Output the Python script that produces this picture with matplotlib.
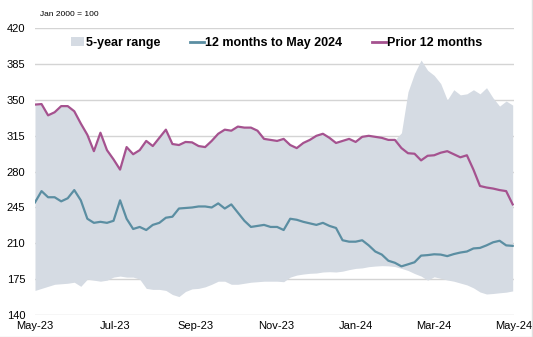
import matplotlib
matplotlib.use("Agg")
import matplotlib.pyplot as plt
import matplotlib.dates as mdates
from matplotlib.lines import Line2D
from matplotlib.patches import Patch
import pandas as pd

plt.rcParams['font.family'] = ['Liberation Sans', 'DejaVu Sans']

# index, Jan 2000 = 100, sampled every 5 days from 1 May 2023
start_date = '2023-05-01'
n_points = 74

prior_12m = [345.5, 346, 335, 338, 344, 344, 339, 327, 316, 300, 318, 301, 292, 282, 304, 297, 301, 310, 305,
             313, 321, 307, 306, 309, 308.6, 305, 304, 310, 317, 321, 320, 324, 323, 323, 320, 312, 311,
             310, 312, 306, 303, 308, 311, 315, 317, 313, 308, 310, 312, 309, 314, 315, 314, 313, 311, 311,
             303, 298, 297.5, 291, 295.5, 296, 298.5, 300, 297, 294, 296, 282, 266, 264.5, 263.5, 262, 261, 248]

last_12m = [250, 261, 255, 255, 251, 254, 262, 252, 234, 230, 231, 230, 232, 252, 234, 224, 226, 223, 228,
            230, 235, 236, 244, 244.5, 245, 246, 246, 245, 249, 244, 248, 240, 232, 226, 227, 228, 226,
            226, 223, 234, 233, 231, 229.5, 228, 230, 227, 225, 213, 211.6, 211.6, 213, 208, 202, 199, 193, 191,
            187.5, 189.5, 191.5, 198, 198.5, 199.3, 199, 197.5, 199.5, 201, 202, 205, 205.5, 208, 211, 212.5, 208, 207.5]

range_low = [164, 166, 168, 170, 170.5, 171, 172, 168, 175, 174, 173, 174, 177, 178, 177, 177, 175, 166, 165,
             165, 164, 160, 158, 163, 165.5, 166, 167.5, 170, 173, 173, 170, 170, 171, 172, 172.5, 173, 173,
             173, 172.5, 177, 179, 180, 180.7, 181, 182, 182.3, 182, 182.8, 184.3, 185.5, 186, 187.2, 187.8, 188.2, 188, 187.3,
             185.5, 183.5, 180.5, 178, 174, 177.3, 175.8, 174.2, 173, 171.2, 169.4, 166.5, 162.5, 160.5, 161, 161.7, 162.3, 163.5]

# top of range follows the prior-12-months line until the March spike
range_high_spike = [318, 358, 376, 389, 379, 374, 366, 350, 360, 355, 356, 360, 356, 362, 352, 344, 349, 345]
range_high = prior_12m[:n_points - len(range_high_spike)] + range_high_spike

yticks = [140, 175, 210, 245, 280, 315, 350, 385, 420]

fill_col = '#d5dbe3'
teal = '#5b8ea2'
purple = '#a5528f'
grid_col = '#d4d4d4'

dates = pd.date_range(start_date, periods=n_points, freq='5D')

fig = plt.figure(figsize=(5.33, 3.37), dpi=100)
ax = fig.add_axes([35 / 533, 1 - 315 / 337, 479 / 533, 286.7 / 337])

ax.fill_between(dates, range_low, range_high, color=fill_col, lw=0, zorder=2)
ax.plot(dates, last_12m, color=teal, lw=1.6, zorder=3)
ax.plot(dates, prior_12m, color=purple, lw=1.6, zorder=3)

ax.set_ylim(140, 420)
ax.set_yticks(yticks)
ax.set_xlim(pd.Timestamp('2023-05-01'), pd.Timestamp('2024-05-01'))
ax.xaxis.set_major_locator(mdates.MonthLocator(bymonth=[1, 3, 5, 7, 9, 11]))
ax.xaxis.set_major_formatter(mdates.DateFormatter('%b-%y'))

ax.grid(axis='y', color=grid_col, lw=1)
ax.set_axisbelow(True)
for s in ax.spines.values():
    s.set_visible(False)
ax.tick_params(axis='y', length=0, pad=7, labelsize=8)
ax.tick_params(axis='x', length=0, pad=4, labelsize=8)

handles = [Patch(facecolor=fill_col, edgecolor='none'),
           Line2D([], [], color=teal, lw=2),
           Line2D([], [], color=purple, lw=2)]
labels = ['5-year range', '12 months to May 2024', 'Prior 12 months']
ax.legend(handles, labels, loc='center', bbox_to_anchor=(0.504, 0.949), ncol=3,
          frameon=False, prop={'weight': 'bold', 'size': 9}, handlelength=1.1,
          handleheight=0.7, handletextpad=0.1, columnspacing=2.4, borderaxespad=0)

fig.text(40 / 533, 1 - 15 / 337, 'Jan 2000 = 100', fontsize=6, va='center', ha='left')

# faint frame on the right and bottom edges
fig.add_artist(Line2D([531.5 / 533, 531.5 / 533], [0, 1], color='#e0e0e0', lw=1))
fig.add_artist(Line2D([0, 1], [0.5 / 337, 0.5 / 337], color='#e0e0e0', lw=1))

fig.savefig('out.png', dpi=100)
